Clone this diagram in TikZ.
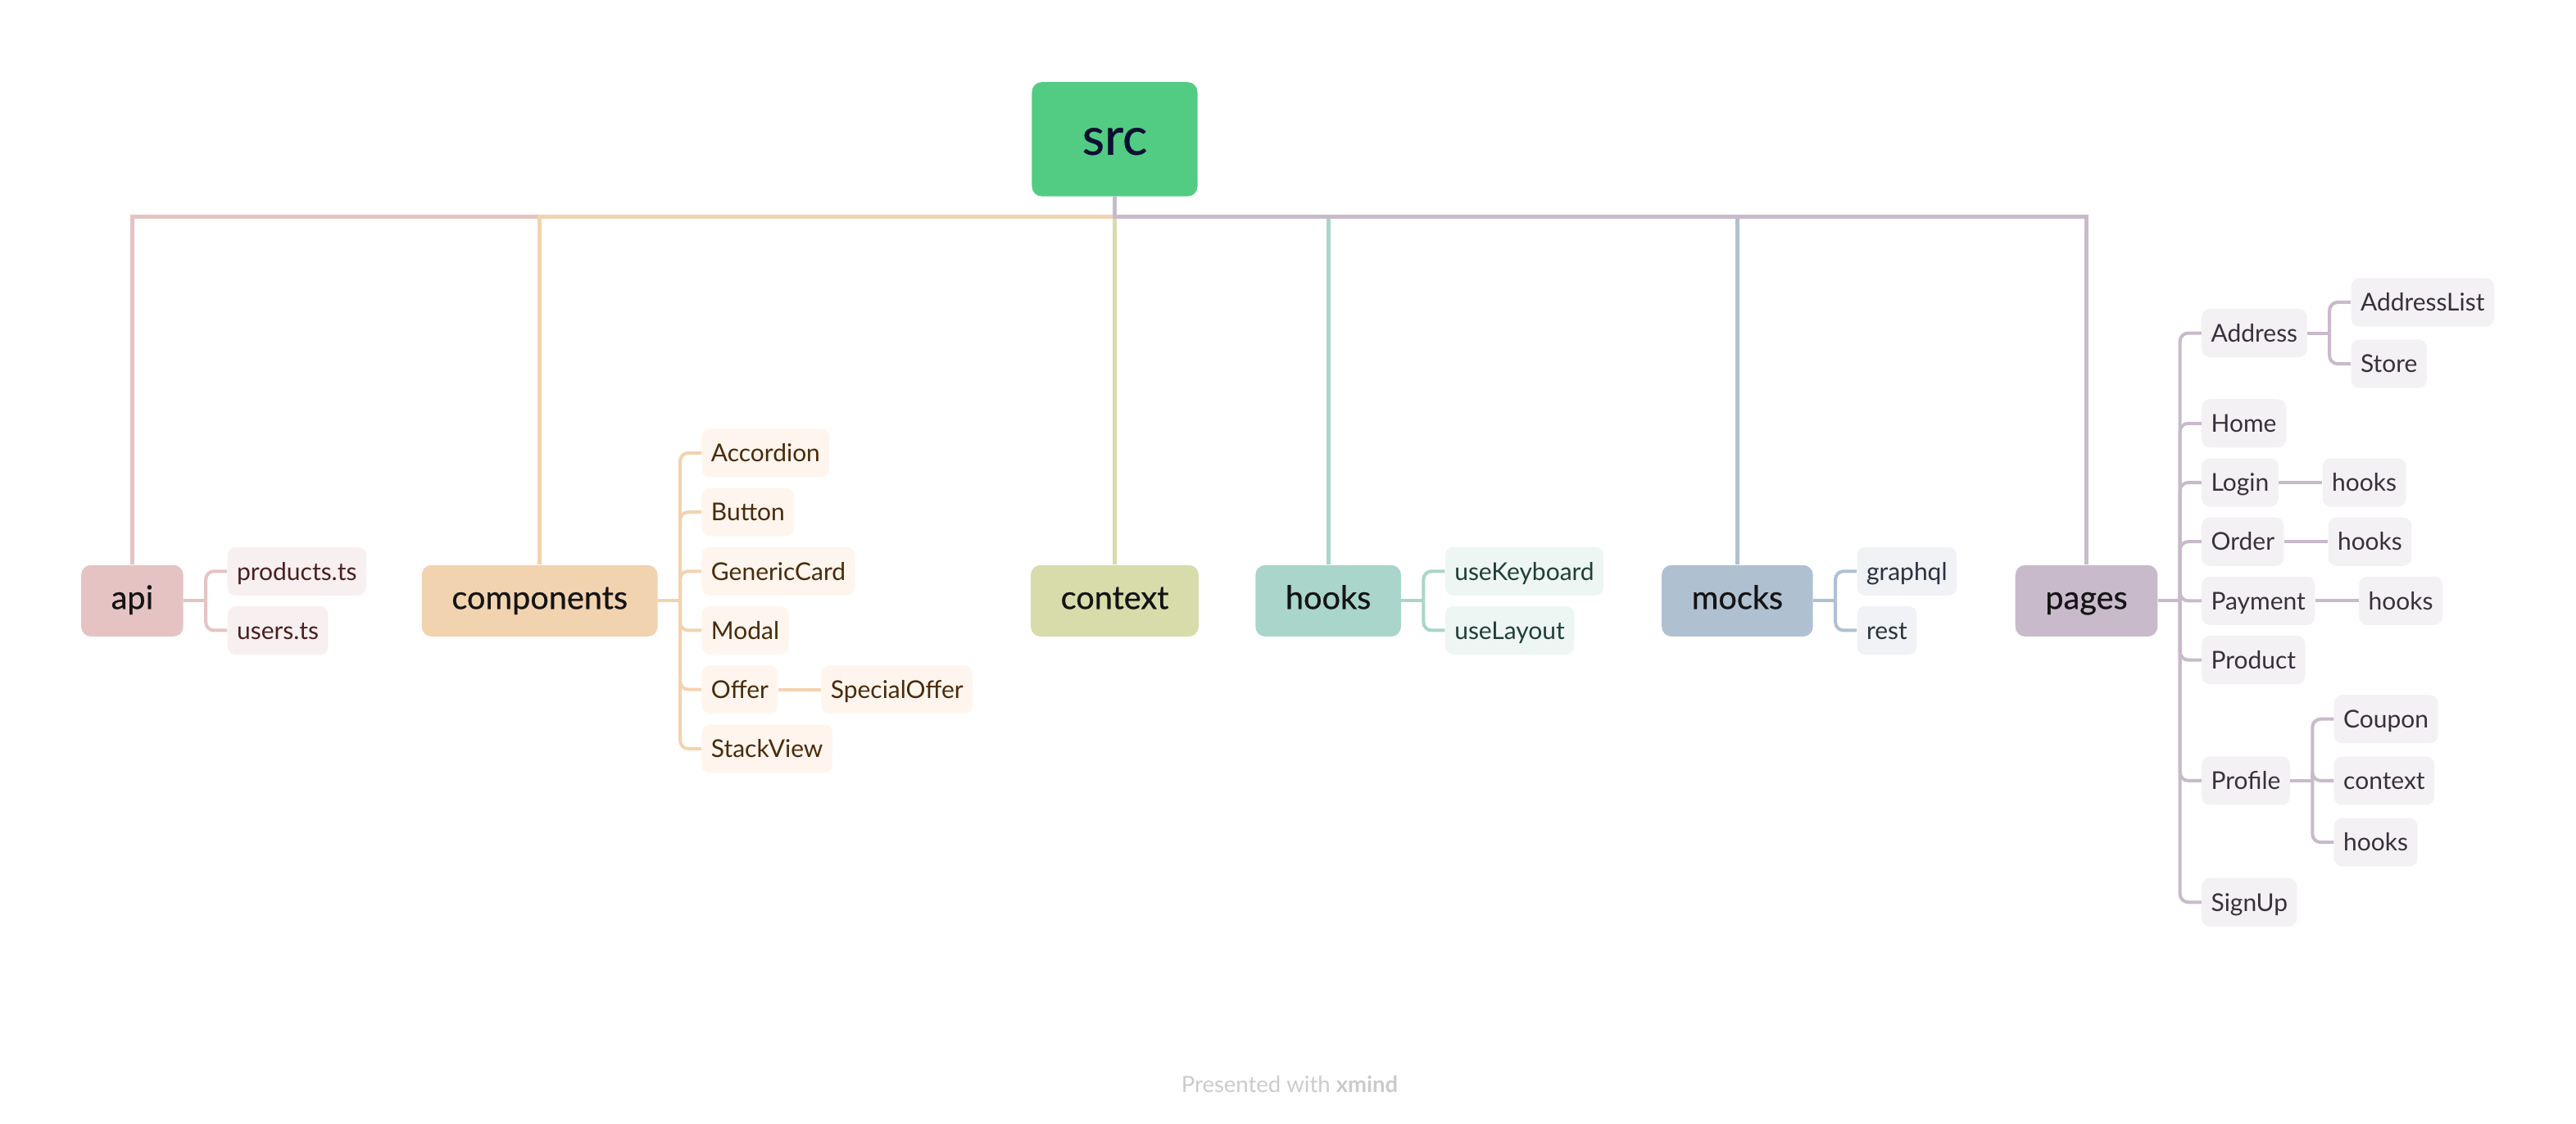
\documentclass[tikz,border=0pt]{standalone}
\usepackage{fontspec}
\setmainfont{Lato}
\newfontfamily\mediumfont{Lato}[FakeBold=0.6]
\usetikzlibrary{calc}
\definecolor{srcC}{HTML}{52CC83}
\definecolor{srcT}{HTML}{0B1033}
\definecolor{apiC}{HTML}{E6C3C3}
\definecolor{apiL}{HTML}{F8F0F0}
\definecolor{apiT}{HTML}{4A1F1F}
\definecolor{compC}{HTML}{F2D3B0}
\definecolor{compL}{HTML}{FEF6EE}
\definecolor{compT}{HTML}{4A2A0A}
\definecolor{ctxC}{HTML}{D8DCAB}
\definecolor{hookC}{HTML}{A9D5CA}
\definecolor{hookL}{HTML}{EEF6F4}
\definecolor{hookT}{HTML}{1F3F37}
\definecolor{mockC}{HTML}{AFC0D1}
\definecolor{mockL}{HTML}{F0F2F5}
\definecolor{mockT}{HTML}{2A3340}
\definecolor{pageC}{HTML}{C8BACB}
\definecolor{pageL}{HTML}{F3F1F4}
\definecolor{pageT}{HTML}{3A2F3C}
\definecolor{footC}{HTML}{CBCBCB}
\tikzstyle{root}=[fill=srcC, text=srcT, rounded corners=0.24cm, minimum width=4.03cm,
    minimum height=2.78cm, text height=21.4pt, text depth=0pt,
    font=\mediumfont\fontsize{36}{40}\selectfont]
\tikzstyle{topic}=[rounded corners=0.24cm, minimum height=1.74cm, inner xsep=0.73cm,
    text height=11.3pt, text depth=0pt, text=black!92,
    font=\mediumfont\fontsize{22.5}{26}\selectfont]
\tikzstyle{leaf}=[rounded corners=0.2cm, minimum height=1.18cm, inner xsep=0.23cm,
    anchor=west, text height=12.2pt, text depth=0pt, font=\fontsize{17}{20}\selectfont]
\tikzstyle{trunk} = [draw, line width=0.1cm]
\tikzstyle{branch} = [draw, line width=0.08cm, rounded corners=0.2cm]

\begin{document}
\begin{tikzpicture}[x=0.04cm, y=-0.04cm]
  \useasboundingbox (0,0) rectangle (1568,684);

  \node[root] (src) at (678.5,84.75) {src};
  \coordinate (bar) at (0,132);
  \foreach \name/\x/\col in {api/80.5/apiC, components/328.5/compC, context/678.5/ctxC,
                             hooks/808.5/hookC, mocks/1057.5/mockC, pages/1270/pageC}
        \node[topic, fill=\col] (\name) at (\x,365.75) {\name};
  \foreach \name/\col in {api/apiC, components/compC, context/ctxC, hooks/hookC,
                          mocks/mockC, pages/pageC}
        \path[trunk, draw=\col] (src.south) -- (src.south |- bar) -| (\name.north);

  % api
  \coordinate (api-fork) at ($(api.east)+(13.5,0)$);
  \path[branch, draw=apiC] (api.east) -- (api-fork);
  \foreach \name/\txt/\dy in {api-products/products.ts/-18, api-users/users.ts/18}{
        \node[leaf, fill=apiL, text=apiT] (\name) at ($(api.east)+(26.5,\dy)$) {\txt};
        \path[branch, draw=apiC] (api-fork) |- (\name.west);
  }

  % components
  \coordinate (cp-fork) at ($(components.east)+(13.5,0)$);
  \path[branch, draw=compC] (components.east) -- (cp-fork);
  \foreach \name/\txt/\dy in {cp-accordion/Accordion/-90, cp-button/Button/-54,
                              cp-card/GenericCard/-18, cp-modal/Modal/18,
                              cp-offer/Offer/54, cp-stack/StackView/90}{
        \node[leaf, fill=compL, text=compT] (\name) at ($(components.east)+(26.5,\dy)$) {\txt};
        \path[branch, draw=compC] (cp-fork) |- (\name.west);
  }
  \node[leaf, fill=compL, text=compT] (cp-special) at ($(cp-offer.east)+(26,0)$) {SpecialOffer};
  \path[branch, draw=compC] (cp-offer) -- (cp-special);

  % hooks
  \coordinate (hk-fork) at ($(hooks.east)+(13.5,0)$);
  \path[branch, draw=hookC] (hooks.east) -- (hk-fork);
  \foreach \name/\txt/\dy in {hk-keyboard/useKeyboard/-18, hk-layout/useLayout/18}{
        \node[leaf, fill=hookL, text=hookT] (\name) at ($(hooks.east)+(26.5,\dy)$) {\txt};
        \path[branch, draw=hookC] (hk-fork) |- (\name.west);
  }

  % mocks
  \coordinate (mk-fork) at ($(mocks.east)+(13.5,0)$);
  \path[branch, draw=mockC] (mocks.east) -- (mk-fork);
  \foreach \name/\txt/\dy in {mk-graphql/graphql/-18, mk-rest/rest/18}{
        \node[leaf, fill=mockL, text=mockT] (\name) at ($(mocks.east)+(26.5,\dy)$) {\txt};
        \path[branch, draw=mockC] (mk-fork) |- (\name.west);
  }

  % pages
  \coordinate (pg-fork) at ($(pages.east)+(13.5,0)$);
  \path[branch, draw=pageC] (pages.east) -- (pg-fork);
  \foreach \name/\txt/\dy in {pg-address/Address/-163, pg-home/Home/-108,
                              pg-login/Login/-72, pg-order/Order/-36,
                              pg-payment/Payment/0, pg-product/Product/36,
                              pg-profile/Profile/109.5, pg-signup/SignUp/183.5}{
        \node[leaf, fill=pageL, text=pageT] (\name) at ($(pages.east)+(26.5,\dy)$) {\txt};
        \path[branch, draw=pageC] (pg-fork) |- (\name.west);
  }
  \coordinate (ad-fork) at ($(pg-address.east)+(13.5,0)$);
  \path[branch, draw=pageC] (pg-address.east) -- (ad-fork);
  \foreach \name/\txt/\dy in {ad-list/AddressList/-18.75, ad-store/Store/18.75}{
        \node[leaf, fill=pageL, text=pageT] (\name) at ($(pg-address.east)+(26.5,\dy)$) {\txt};
        \path[branch, draw=pageC] (ad-fork) |- (\name.west);
  }
  \foreach \page in {login, order, payment}{
        \node[leaf, fill=pageL, text=pageT] (pg-\page-hooks) at ($(pg-\page.east)+(26.5,0)$) {hooks};
        \path[branch, draw=pageC] (pg-\page) -- (pg-\page-hooks);
  }
  \coordinate (pf-fork) at ($(pg-profile.east)+(13.5,0)$);
  \path[branch, draw=pageC] (pg-profile.east) -- (pf-fork);
  \foreach \name/\txt/\dy in {pf-coupon/Coupon/-37.5, pf-context/context/0, pf-hooks/hooks/37.5}{
        \node[leaf, fill=pageL, text=pageT] (\name) at ($(pg-profile.east)+(26.5,\dy)$) {\txt};
        \path[branch, draw=pageC] (pf-fork) |- (\name.west);
  }

  \node[text=footC, font=\fontsize{15.6}{18}\selectfont] (footer) at (785,660)
        {Presented with \textbf{xmind}};
\end{tikzpicture}
\end{document}
